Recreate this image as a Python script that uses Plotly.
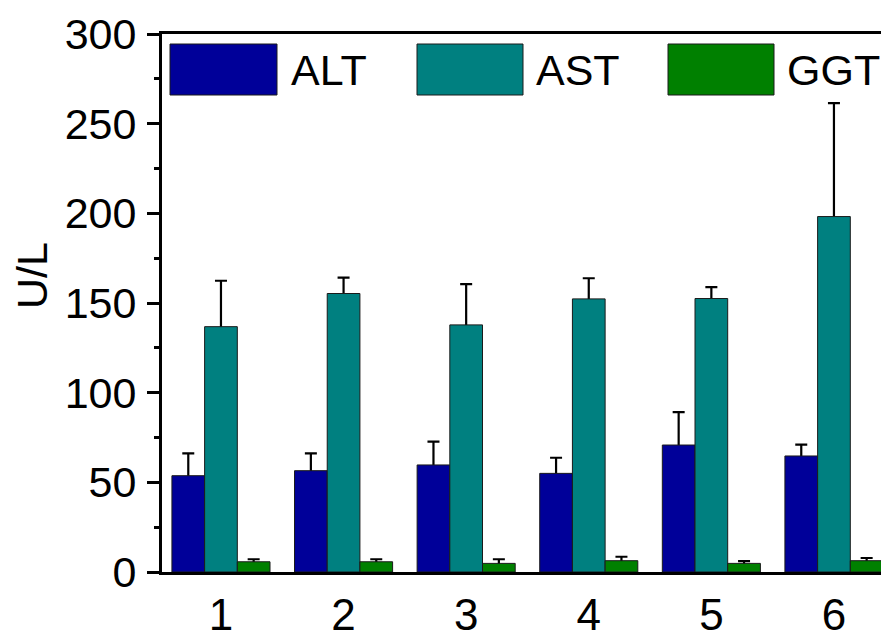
import plotly.graph_objects as go

groups = [1, 2, 3, 4, 5, 6]
tick_labels = ["1", "2", "3", "4", "5", "6"]
series_names = ["ALT", "AST", "GGT"]

alt_mean = [53.7, 56.5, 59.7, 55.0, 70.8, 64.7]
alt_err = [12.5, 9.7, 13.0, 8.7, 18.3, 6.3]
ast_mean = [136.8, 155.3, 137.8, 152.3, 152.5, 198.2]
ast_err = [25.6, 8.9, 22.7, 11.5, 6.3, 63.2]
ggt_mean = [5.7, 5.7, 4.8, 6.3, 4.8, 6.3]
ggt_err = [1.4, 1.4, 2.3, 2.2, 1.3, 1.5]

colors = ["#000099", "#008080", "#008000"]
means = [alt_mean, ast_mean, ggt_mean]
errs = [alt_err, ast_err, ggt_err]

# page has an 8px body margin; compensate so the plot lands where the reference has it
OFF = 8
PAGE_W, PAGE_H = 889, 633
PL, PT, PB_Y, PR_X = 162, 34, 572, 889   # plot area in page pixels
W, H = PAGE_W - OFF, PAGE_H - OFF
L, T = PL - OFF, PT - OFF
B = (OFF + H) - PB_Y
R = (OFF + W) - PR_X
FONT = "Liberation Sans, Arial, sans-serif"
FS = 43

fig = go.Figure()
for name, m, e, c in zip(series_names, means, errs, colors):
    # error bars first (transparent bar), so the coloured bar hides the lower part
    fig.add_trace(go.Bar(
        x=groups, y=m, name=name + " err", offsetgroup=name,
        marker=dict(color="rgba(0,0,0,0)", line=dict(width=0)),
        error_y=dict(type="data", array=e, arrayminus=m, symmetric=False,
                     color="black", thickness=2.2, width=6),
        showlegend=False, hoverinfo="skip",
    ))
    fig.add_trace(go.Bar(
        x=groups, y=m, name=name, offsetgroup=name,
        marker=dict(color=c, line=dict(color="#1a1a1a", width=1)),
        showlegend=False,
    ))

pw = PR_X - PL
ph = PB_Y - PT


def px2paper_x(px):
    return (px - PL) / pw


def px2paper_y(py):
    return (PB_Y - py) / ph


# legend drawn manually (large swatches), page pixel positions
legend_swatch_x = [(170, 277), (417, 523), (668, 774)]
legend_text_x = [289, 534, 785]
sw_top, sw_bot = 44, 95
shapes = []
annotations = []
for (x0, x1), tx, name, c in zip(legend_swatch_x, legend_text_x, series_names, colors):
    shapes.append(dict(type="rect", xref="paper", yref="paper",
                       x0=px2paper_x(x0), x1=px2paper_x(x1),
                       y0=px2paper_y(sw_bot), y1=px2paper_y(sw_top),
                       fillcolor=c, line=dict(color="#1a1a1a", width=1)))
    annotations.append(dict(xref="paper", yref="paper", x=px2paper_x(tx),
                            y=px2paper_y((sw_top + sw_bot) / 2), text=name,
                            showarrow=False, xanchor="left", yanchor="middle",
                            font=dict(family=FONT, size=FS, color="black")))

annotations.append(dict(xref="paper", yref="paper", x=px2paper_x(32), y=px2paper_y(276),
                        text="U/L", textangle=-90, showarrow=False,
                        xanchor="center", yanchor="middle",
                        font=dict(family=FONT, size=FS, color="black")))

fig.update_layout(
    width=W, height=H,
    margin=dict(l=L, r=R, t=T, b=B, pad=0),
    paper_bgcolor="white", plot_bgcolor="white",
    barmode="group", bargap=0.2, bargroupgap=0,
    shapes=shapes, annotations=annotations,
    font=dict(family=FONT, size=FS, color="black"),
)
fig.update_xaxes(
    range=[0.519, 6.449], tickmode="array", tickvals=groups, ticktext=tick_labels,
    showline=True, linecolor="black", linewidth=3, mirror=True,
    ticks="", ticklen=0, showgrid=False, zeroline=False, ticklabelstandoff=2,
    automargin=False,
    tickfont=dict(family=FONT, size=FS + 1, color="black"),
)
fig.update_yaxes(
    range=[0, 300], tick0=0, dtick=50, ticks="outside", ticklen=12, tickwidth=3,
    tickcolor="black", showline=True, linecolor="black", linewidth=3,
    showgrid=False, zeroline=False, ticklabelstandoff=2, automargin=False,
    minor=dict(ticks="outside", ticklen=5, tickwidth=3, dtick=25, tickcolor="black", showgrid=False),
    tickfont=dict(family=FONT, size=FS, color="black"),
)

fig.write_html("out.html")
